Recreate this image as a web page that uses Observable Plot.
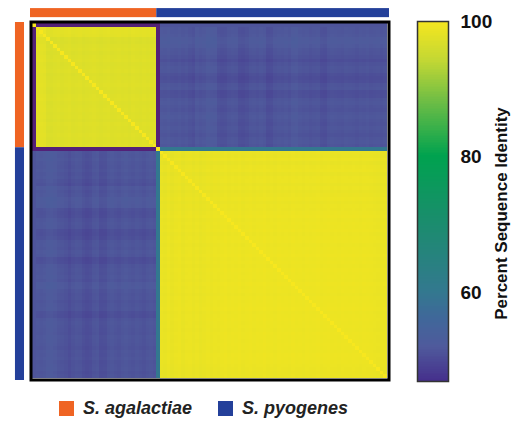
<!DOCTYPE html>
<html><head><meta charset="utf-8">
<script src="https://cdn.jsdelivr.net/npm/d3@7"></script>
<script src="https://cdn.jsdelivr.net/npm/@observablehq/plot@0.6"></script>
<style>
body{margin:0;background:#fff;}
#wrap{position:relative;width:517px;height:422px;font-family:"Liberation Sans",Arial,sans-serif;overflow:hidden;}
#heat{position:absolute;left:0;top:0;}
#bar{position:absolute;left:417px;top:0;}
.item{position:absolute;top:401px;display:flex;align-items:center;font-weight:bold;font-style:italic;font-size:18px;color:#222;line-height:15px;}
.sw{width:15px;height:15px;display:inline-block;margin-right:9px;}
</style></head><body>
<div id="wrap"><div id="heat"></div><div id="bar"></div><div id="legend"></div></div>
<script>
// ---- data ----
const species = ["S. agalactiae", "S. pyogenes"];
const speciesColors = ["#ef6423", "#24409a"];
// mean identity (%) of each core strain to the other core strains of its own species
const agaWithin = [98.5, 98.5, 98.3, 96.6, 96.4, 96.9, 97.2, 96.7, 97.1, 97.4,
  96.8, 97.0, 97.3, 96.7, 97.0, 97.2, 97.5, 97.1, 96.8, 97.2,
  97.4, 96.9, 97.1, 97.3, 97.0, 97.2, 96.8, 97.4, 97.1, 96.9,
  97.3, 97.0, 97.2, 97.5];
const pyoWithin = [98.3, 97.9, 98.6, 97.8, 98.4, 98.7, 97.9, 98.5,
  98.6, 98.0, 98.5, 97.9, 98.3, 98.7, 98.2, 98.6,
  98.4, 98.8, 99.1, 98.6, 98.9, 98.7, 99.0, 98.5,
  98.8, 99.0, 98.6, 98.9, 98.8, 99.1, 98.7, 98.9,
  98.6, 99.0, 98.8, 98.9, 98.7, 99.1, 98.8, 98.9,
  98.6, 99.0, 98.8, 98.9, 99.1, 98.7, 98.9, 99.0,
  98.8, 98.9, 98.7, 99.0, 98.9, 98.8, 99.0, 98.9,
  98.7, 99.0, 98.9, 98.8, 98.6, 98.4, 98.2, 98.3];
// cross-species identity: base level and per-strain shift (stripes)
const crossBase = 51.3;
const agaCross = [0.3, 0.2, 0.4, 0.8, 0.9, 0.6, 0.1, 0.0, -0.3, -0.8,
  -0.2, 0.1, 0.0, -0.6, -0.9, -0.7, 0.0, 0.2, -0.7, -0.6,
  0.1, 0.3, 0.0, -0.2, 0.2, 0.4, 0.1, -0.1, 0.2, 0.0,
  -0.3, 0.1, 0.3, 0.0];
const pyoCross = [0.4, 0.3, 0.5, 0.2, 0.1, 0.3, 0.0, 0.2,
  -0.2, -0.5, 0.4, 0.1, 0.3, 0.8, 0.7, 0.6,
  -0.4, -0.6, -0.5, 0.0, 0.2, 0.1, -0.7, -0.8,
  -0.5, 0.1, 0.2, 0.0, 0.3, 0.1, -0.8, -0.7,
  0.0, 0.2, 0.1, 0.3, 0.0, 0.6, 0.7, 0.2,
  0.0, 0.1, -0.2, 0.0, 0.1, -0.6, -0.7, 0.0,
  0.2, 0.1, 0.0, -0.1, 0.2, 0.1, 0.0, -0.2,
  0.1, 0.0, 0.2, -0.1, 0.0, 0.1, -0.2, 0.0];
// divergent strain placed first in each species block
const outlierVsAga = [45, 45];
const outlierVsPyo = [51.3, 60];
const outlierPair = 45;
// colour bar
const colorStops = [44, 47, 52, 56, 60, 70, 80, 88, 94, 100];
const colorRamp = ["#5a1a6e", "#45308c", "#4f5a9c", "#40679a", "#33788f", "#1b8c6e", "#00a24f", "#6dbd45", "#c2d734", "#f7e71e"];
const barDomain = [47, 100];
const barTicks = [60, 80, 100];
const barLabel = "Percent Sequence Identity";

// ---- build strain list and matrix ----
const seqs = [];
seqs.push({sp: 0, kind: "outlier", k: 0});
agaWithin.forEach((w, k) => seqs.push({sp: 0, kind: "core", w, c: agaCross[k]}));
seqs.push({sp: 1, kind: "outlier", k: 1});
pyoWithin.forEach((w, k) => seqs.push({sp: 1, kind: "core", w, c: pyoCross[k]}));
const N = seqs.length;

function identity(a, b) {
  if (a === b) return 100;
  if (a.kind === "outlier" && b.kind === "outlier") return outlierPair;
  if (a.kind === "outlier") return b.sp === 0 ? outlierVsAga[a.k] : outlierVsPyo[a.k];
  if (b.kind === "outlier") return a.sp === 0 ? outlierVsAga[b.k] : outlierVsPyo[b.k];
  if (a.sp === b.sp) return (a.w + b.w) / 2;
  return crossBase + a.c + b.c;
}
const cells = [];
seqs.forEach((a, i) => seqs.forEach((b, j) => cells.push({row: i, col: j, value: identity(a, b)})));

const blocks = species.map((name, s) => {
  const idx = seqs.map((d, i) => d.sp === s ? i : -1).filter(i => i >= 0);
  return {name, color: speciesColors[s], start: d3.min(idx), end: d3.max(idx) + 1};
});

const colorOpts = {type: "linear", domain: colorStops, range: colorRamp, clamp: true};

const heat = Plot.plot({
  width: 400, height: 395,
  marginLeft: 32, marginRight: 13, marginTop: 23, marginBottom: 17,
  x: {domain: [0, N], axis: null},
  y: {domain: [0, N], axis: null, reverse: true},
  color: colorOpts,
  marks: [
    Plot.rect(cells, {x1: "col", x2: d => d.col + 1, y1: "row", y2: d => d.row + 1, fill: "value", shapeRendering: "crispEdges"}),
    Plot.frame({stroke: "black", strokeWidth: 3, inset: -1.5}),
    ...blocks.map((b, s) => Plot.rect([b], {x1: "start", x2: "end", y1: -4.2, y2: -1.65, fill: b.color,
      insetLeft: s === 0 ? -2 : 0, insetRight: s === blocks.length - 1 ? -2 : 0})),
    ...blocks.map((b, s) => Plot.rect([b], {y1: "start", y2: "end", x1: -4.8, x2: -2.25, fill: b.color,
      insetTop: s === 0 ? -1 : 0, insetBottom: s === blocks.length - 1 ? -2 : 0}))
  ]
});
document.getElementById("heat").appendChild(heat);

const rampSteps = d3.range(barDomain[0], barDomain[1], 0.25);
const bar = Plot.plot({
  width: 100, height: 400,
  marginLeft: 0, marginRight: 69, marginTop: 21, marginBottom: 19,
  x: {domain: [0, 1], axis: null},
  y: {domain: barDomain, axis: null},
  color: colorOpts,
  style: {fontFamily: "'Liberation Sans', Arial, sans-serif", overflow: "visible"},
  marks: [
    Plot.rect(rampSteps, {x1: 0, x2: 1, y1: d => d, y2: d => Math.min(d + 0.3, barDomain[1]), fill: d => d, shapeRendering: "crispEdges"}),
    Plot.frame({stroke: "#333", strokeWidth: 1.5}),
    Plot.text(barTicks, {y: d => d, text: d => String(d), frameAnchor: "right", textAnchor: "start", dx: 12, fontSize: 19, fontWeight: "bold", fill: "#111"}),
    Plot.text([barLabel], {text: d => d, frameAnchor: "right", textAnchor: "middle", rotate: -90, dx: 53, dy: 12, fontSize: 17, fontWeight: "bold", fill: "#111"})
  ]
});
document.getElementById("bar").appendChild(bar);

const legend = document.getElementById("legend");
const legendX = [59, 218];
species.forEach((name, s) => {
  const it = document.createElement("div");
  it.className = "item";
  it.style.left = legendX[s] + "px";
  it.innerHTML = `<span class="sw" style="background:${speciesColors[s]}"></span><span>${name}</span>`;
  legend.appendChild(it);
});
</script>
</body></html>
